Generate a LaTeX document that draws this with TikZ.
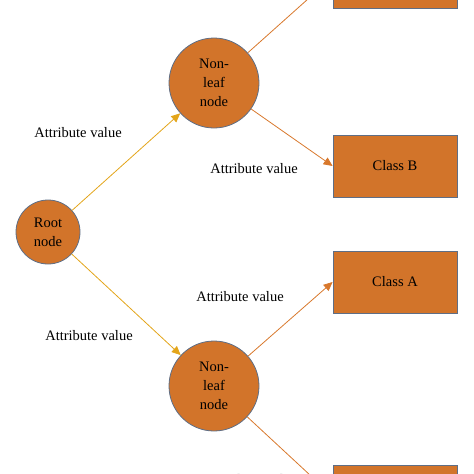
\documentclass[tikz,border=0pt]{standalone}
\usepackage{fontspec}
\setmainfont{Liberation Serif}
\usetikzlibrary{arrows.meta}
\definecolor{leafFill}{HTML}{D2742A}
\definecolor{leafEdge}{HTML}{5E6E86}
\definecolor{edgeOrange}{HTML}{D8782C}
\definecolor{edgeYellow}{HTML}{E3A51A}
\begin{document}
\begin{tikzpicture}[x=1pt,y=-1pt,
    every node/.style={font=\fontsize{14.5}{19}\selectfont},
    tnode/.style={circle,draw=leafEdge,fill=leafFill,line width=0.8pt,align=center,inner sep=0pt},
    cls/.style={rectangle,draw=leafEdge,fill=leafFill,line width=0.8pt,minimum width=124pt,minimum height=62pt},
    branch/.style={edgeOrange,line width=0.8pt,-{Triangle[length=9pt,width=8pt]}},
    rootbranch/.style={edgeYellow,line width=0.8pt,-{Triangle[length=9pt,width=8pt]}}]
  \useasboundingbox (0,0) rectangle (474,474);
  \clip (0,0) rectangle (474,474);
  % nodes
  \node[tnode,minimum size=64pt] (root) at (48,232) {Root\\node};
  \node[tnode,minimum size=90pt] (upper) at (214,83) {Non-\\leaf\\node};
  \node[tnode,minimum size=90pt] (lower) at (214,386) {Non-\\leaf\\node};
  \node[cls] (top) at (395,-23) {};
  \node[cls] (clsB) at (395,166) {Class B};
  \node[cls] (clsA) at (395,282) {Class A};
  \node[cls] (bottom) at (395,496) {};
  % connectors
  \draw[rootbranch] (root) -- (upper);
  \draw[rootbranch] (root) -- (lower);
  \draw[branch] (upper) -- (top.west);
  \draw[branch] (upper) -- (clsB.west);
  \draw[branch] (lower) -- (clsA.west);
  \draw[branch] (lower) -- (bottom.west);
  % labels
  \node (lblUp) at (78,133) {Attribute value};
  \node (lblB) at (254,169) {Attribute value};
  \node (lblA) at (240,297) {Attribute value};
  \node (lblLow) at (89,336) {Attribute value};
  \node (lblBot) at (254,480) {Attribute value};
\end{tikzpicture}
\end{document}
